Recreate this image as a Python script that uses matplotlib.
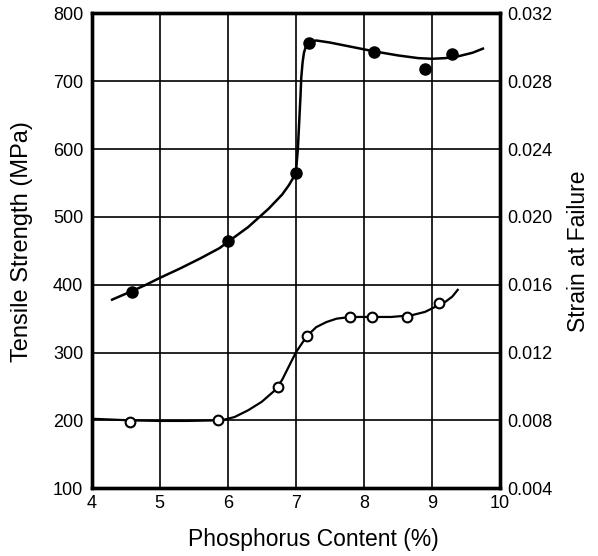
import matplotlib
matplotlib.use("Agg")
import matplotlib.pyplot as plt
import matplotlib.ticker as ticker

plt.rcParams['font.family'] = ['Liberation Sans', 'DejaVu Sans']

# measured points
p_ts = [4.6, 6.0, 7.0, 7.2, 8.15, 8.9, 9.3]
ts = [390, 465, 564, 757, 743, 718, 740]

p_strain = [4.57, 5.86, 6.74, 7.17, 7.80, 8.12, 8.64, 9.11]
strain = [0.0079, 0.0080, 0.0100, 0.0130, 0.0141, 0.0141, 0.0141, 0.0149]

# hand-drawn trend curves
curve_ts_x = [4.3, 4.6, 4.8, 5.0, 5.3, 5.6, 5.88, 6.0, 6.3, 6.6, 6.8, 6.9, 7.0,
              7.03, 7.05, 7.07, 7.08, 7.1, 7.12, 7.15, 7.2, 7.3, 7.5, 7.8,
              8.15, 8.5, 8.8, 9.0, 9.2, 9.4, 9.6, 9.75]
curve_ts_y = [378, 391, 400, 410, 424, 439, 454, 463, 485, 512, 533, 547, 564,
              600, 640, 680, 705, 728, 742, 752, 758, 760, 757, 751,
              744, 738, 734, 733, 734, 737, 742, 748]

curve_st_x = [4.0, 4.3, 4.6, 5.0, 5.4, 5.8, 5.95, 6.1, 6.3, 6.5, 6.7, 6.8,
              6.9, 7.0, 7.1, 7.17, 7.3, 7.45, 7.6, 7.8, 8.1, 8.4, 8.7, 8.9,
              9.05, 9.2, 9.3, 9.38]
curve_st_y = [0.0081, 0.00805, 0.0080, 0.00797, 0.00797, 0.0080, 0.00805,
              0.0082, 0.0086, 0.0091, 0.0098, 0.0104, 0.0112, 0.0120, 0.0126,
              0.0130, 0.0135, 0.0138, 0.0140, 0.0141, 0.0141, 0.0141, 0.0142,
              0.0144, 0.0147, 0.0150, 0.0153, 0.0157]

x_ticks = [4, 5, 6, 7, 8, 9, 10]
ts_ticks = [100, 200, 300, 400, 500, 600, 700, 800]
st_ticks = [0.004, 0.008, 0.012, 0.016, 0.020, 0.024, 0.028, 0.032]

fig = plt.figure(figsize=(5.98, 5.56), dpi=100)
ax = fig.add_axes([0.1533, 0.1218, 0.6827, 0.8542])
ax2 = ax.twinx()

ax.set_xlim(4, 10)
ax.set_ylim(100, 800)
ax2.set_ylim(0.004, 0.032)
ax.set_xticks(x_ticks)
ax.set_yticks(ts_ticks)
ax2.set_yticks(st_ticks)
ax2.yaxis.set_major_formatter(ticker.FormatStrFormatter('%.3f'))

ax.grid(True, color='black', linewidth=1.2)
ax.set_axisbelow(True)

ax.plot(curve_ts_x, curve_ts_y, color='black', linewidth=1.8, zorder=3)
ax.plot(p_ts, ts, 'o', color='black', markersize=8, zorder=4)

ax2.plot(curve_st_x, curve_st_y, color='black', linewidth=1.6, zorder=3)
ax2.plot(p_strain, strain, 'o', markerfacecolor='white', markeredgecolor='black',
         markeredgewidth=1.5, markersize=7, zorder=4)

for a in (ax, ax2):
    for s in a.spines.values():
        s.set_linewidth(2.4)
    a.tick_params(length=0, labelsize=13, colors='black')
ax.tick_params(axis='x', pad=5)
ax.tick_params(axis='y', pad=6)
ax2.tick_params(axis='y', pad=5.5)

ax.set_xlabel('Phosphorus Content (%)', fontsize=16.5)
ax.set_ylabel('Tensile Strength (MPa)', fontsize=17)
ax2.set_ylabel('Strain at Failure', fontsize=16.5, labelpad=10)
# the original labels sit a little off-centre
ax.xaxis.set_label_coords(0.542, -0.083)
ax.yaxis.set_label_coords(-0.144, 0.52)

fig.savefig('out.png', dpi=100)
